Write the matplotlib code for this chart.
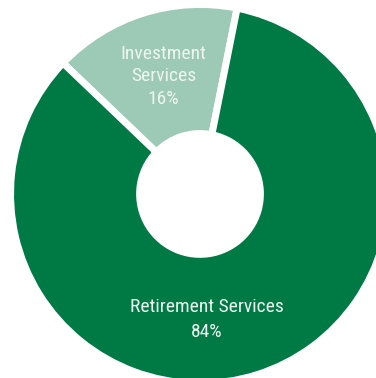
import matplotlib.pyplot as plt

labels = ['Investment\nServices', 'Retirement Services']
shares = [16, 84]
colors = ['#9dcab6', '#007a45']

fig = plt.figure(figsize=(3.76, 3.78), dpi=100)
ax = fig.add_axes([0, 0, 1, 1])
# white edge lines give the gaps between the two slices
ax.pie(shares, colors=colors, startangle=78.7, radius=1.013,
       wedgeprops=dict(width=0.69, edgecolor='white', linewidth=5))
ax.set_aspect('auto')
ax.set_xlim(-1.0695, 0.941)
ax.set_ylim(-0.984, 1.037)
ax.axis('off')

font = ['Roboto Condensed', 'Archivo Narrow', 'DejaVu Sans']
ax.text(-0.195, 0.63, labels[0] + '\n%d%%' % shares[0], ha='center', va='center',
        color='#eef5f1', fontsize=14, family=font, linespacing=1.32)
ax.text(0.037, -0.672, labels[1] + '\n%d%%' % shares[1], ha='center', va='center',
        color='#eef5f1', fontsize=14, family=font, linespacing=1.5)

plt.savefig('out.png', dpi=100)
